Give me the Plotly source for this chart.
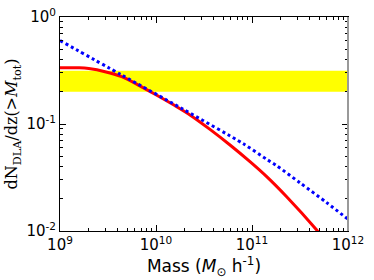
import plotly.graph_objects as go

# Data (log10 mass, log10 dN/dz)
red_logm = [9.0, 9.2, 9.3, 9.469, 9.642, 9.816, 9.99, 10.2, 10.354, 10.5625, 10.771, 10.979, 11.153, 11.361, 11.674, 11.72]
red_logv = [-0.474, -0.475, -0.482, -0.511, -0.558, -0.636, -0.722, -0.83, -0.915, -1.05, -1.196, -1.352, -1.492, -1.68, -1.99, -2.04]
blue_logm = [9.0, 9.642, 10.284, 10.91, 11.153, 11.257, 11.5, 11.778, 12.0]
blue_logv = [-0.22, -0.542, -0.863, -1.185, -1.33, -1.39, -1.55, -1.735, -1.89]
band_low = 0.2
band_high = 0.315
x_tickvals = [1e9, 1e10, 1e11, 1e12]
x_ticktext = ["10<sup>9</sup>", "10<sup>10</sup>", "10<sup>11</sup>", "10<sup>12</sup>"]
y_tickvals = [1e-2, 1e-1, 1e0]
y_ticktext = ["10<sup>-2</sup>", "10<sup>-1</sup>", "10<sup>0</sup>"]
x_minor = [m * 10 ** e for e in (9, 10, 11) for m in range(2, 10)]
y_minor = [m * 10 ** e for e in (-2, -1) for m in range(2, 10)]

red_x = [10 ** v for v in red_logm]
red_y = [10 ** v for v in red_logv]
blue_x = [10 ** v for v in blue_logm]
blue_y = [10 ** v for v in blue_logv]

fig = go.Figure()
fig.add_shape(type="rect", xref="paper", yref="y", x0=0, x1=1, y0=band_low, y1=band_high,
              fillcolor="#ffff00", line=dict(width=0), layer="below")
fig.add_trace(go.Scatter(x=red_x, y=red_y, mode="lines",
                         line=dict(color="#ff0000", width=3, shape="spline", smoothing=0.8),
                         showlegend=False))
fig.add_trace(go.Scatter(x=blue_x, y=blue_y, mode="lines",
                         line=dict(color="#0000ff", width=3, dash="dot", shape="spline", smoothing=0.8),
                         showlegend=False))

axis_common = dict(
    type="log", showgrid=False, zeroline=False, showline=True, linecolor="black", linewidth=1,
    mirror="allticks", ticks="inside", ticklen=6, tickcolor="black", automargin=False,
    tickfont=dict(family="DejaVu Sans", size=15, color="black"),
)
fig.update_xaxes(**axis_common, range=[9, 12], tickvals=x_tickvals, ticktext=x_ticktext,
                 minor=dict(ticks="inside", ticklen=3, tickcolor="black", showgrid=False,
                            tickmode="array", tickvals=x_minor),
                 title=dict(text="Mass (<i>M</i><sub>⊙</sub> h<sup>-1</sup>)", standoff=2,
                            font=dict(family="DejaVu Sans", size=17, color="black")))
fig.update_yaxes(**axis_common, range=[-2, 0], tickvals=y_tickvals, ticktext=y_ticktext,
                 minor=dict(ticks="inside", ticklen=3, tickcolor="black", showgrid=False,
                            tickmode="array", tickvals=y_minor),
                 title=dict(text="dN<sub>DLA</sub>/dz(&gt;<i>M</i><sub>tot</sub>)", standoff=4,
                            font=dict(family="DejaVu Serif", size=16, color="black")))
fig.add_shape(type="line", xref="paper", yref="paper", x0=1, x1=1, y0=0, y1=1,
              line=dict(color="#999999", width=2))

fig.update_layout(width=374, height=280, margin=dict(l=60, r=26, t=17, b=49),
                  plot_bgcolor="white", paper_bgcolor="white")
fig.write_html("out.html", config={"displayModeBar": False},
               post_script="document.body.style.margin='0';document.body.style.padding='0';")
